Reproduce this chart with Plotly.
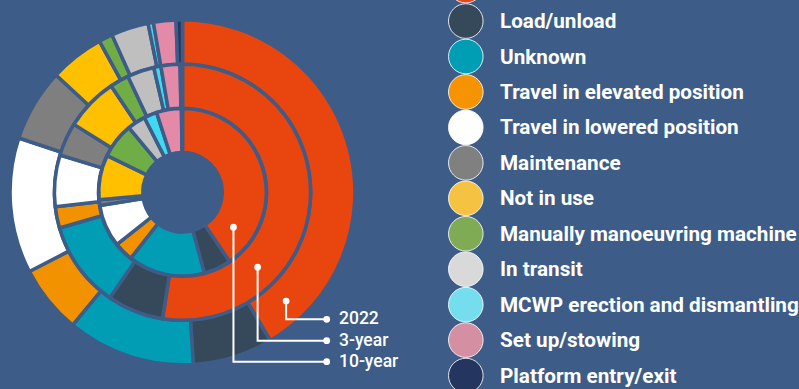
import math
import plotly.graph_objects as go

# ---- data -------------------------------------------------------------
categories = [
    "Working at height",
    "Load/unload",
    "Unknown",
    "Travel in elevated position",
    "Travel in lowered position",
    "Maintenance",
    "Not in use",
    "Manually manoeuvring machine",
    "In transit",
    "MCWP erection and dismantling",
    "Set up/stowing",
    "Platform entry/exit",
]
share_2022 = [41.5, 7.5, 12.0, 6.4, 12.7, 6.8, 5.1, 1.3, 3.5, 0.5, 2.1, 0.6]
share_3yr = [52.5, 7.1, 10.9, 2.7, 6.5, 4.2, 6.7, 2.4, 3.4, 0.9, 2.4, 0.3]
share_10yr = [40.5, 5.3, 14.8, 3.7, 8.2, 1.1, 8.6, 6.8, 3.5, 2.5, 4.8, 0.2]
ring_labels = ["2022", "3-year", "10-year"]

# ---- styling ----------------------------------------------------------
BG = "#3e5c88"
ring_colors = ["#e8450f", "#36495a", "#009db4", "#f39200", "#ffffff", "#7f7f7f",
               "#ffc000", "#70ad47", "#bfbfbf", "#3fd9f2", "#e38aa8", "#1f3864"]
legend_colors = ["#e8461a", "#36495a", "#009eb4", "#f59300", "#ffffff", "#808080",
                 "#f6c242", "#7fab55", "#d9d9d9", "#74ddee", "#d58fa3", "#24355f"]

W, H = 799, 389
CX, CY = 182.5, 192.3          # donut centre (px from top-left)
STROKE = 3.5                   # slice separator width
# (outer radius, inner radius) in px for each ring, outermost first
rings = [(172.45, 128.05), (128.05, 84.05), (83.75, 39.75)]


def px(x):
    return x / W


def py(y):
    return 1 - y / H


fig = go.Figure()

for values, (r_out, r_in) in zip([share_2022, share_3yr, share_10yr], rings):
    fig.add_trace(go.Pie(
        labels=categories,
        values=values,
        sort=False,
        direction="clockwise",
        rotation=0,
        hole=r_in / r_out,
        domain=dict(x=[px(CX - r_out), px(CX + r_out)],
                    y=[py(CY + r_out), py(CY - r_out)]),
        marker=dict(colors=ring_colors, line=dict(color=BG, width=STROKE)),
        textinfo="none",
        hoverinfo="label+value",
        showlegend=False,
    ))

shapes = []
annotations = []

# ---- legend (circle swatches + bold labels) ---------------------------
LEG_CX, LEG_R = 465.8, 17.3
LEG_Y0, LEG_STEP = -14.4, 35.45
LEG_TX = 498.0
for i, (name, col) in enumerate(zip(categories, legend_colors)):
    yc = LEG_Y0 + i * LEG_STEP
    shapes.append(dict(
        type="circle", xref="paper", yref="paper",
        x0=px(LEG_CX - LEG_R), x1=px(LEG_CX + LEG_R),
        y0=py(yc + LEG_R), y1=py(yc - LEG_R),
        fillcolor=col, line=dict(color="rgba(255,255,255,0.85)", width=1),
    ))
    if yc < 0:
        # entry scrolled above the top edge: only the swatch rim shows
        continue
    annotations.append(dict(
        x=px(LEG_TX), y=py(yc), xref="paper", yref="paper",
        xanchor="left", yanchor="middle", showarrow=False,
        text=name, font=dict(family="Roboto", size=20.7, color="white", weight="bold"),
    ))

# ---- ring callouts ----------------------------------------------------
callout_angles = [136.4, 134.9, 124.4]   # degrees clockwise from 12 o'clock
callout_rows = [319.3, 340.7, 361.7]
CALL_END_X = 326.7
CALL_TEXT_X = 336.5
DOT = 3.4
for label, (r_out, r_in), ang, row in zip(ring_labels, rings, callout_angles, callout_rows):
    rm = (r_out + r_in) / 2
    ax = CX + rm * math.sin(math.radians(ang))
    ay = CY - rm * math.cos(math.radians(ang))
    line_style = dict(color="white", width=2)
    shapes.append(dict(type="path", xref="paper", yref="paper",
                       path=f"M {px(ax)} {py(ay)} L {px(ax)} {py(row)} L {px(CALL_END_X)} {py(row)}",
                       line=line_style))
    for dx, dy in [(ax, ay), (CALL_END_X, row)]:
        shapes.append(dict(type="circle", xref="paper", yref="paper",
                           x0=px(dx - DOT), x1=px(dx + DOT),
                           y0=py(dy + DOT), y1=py(dy - DOT),
                           fillcolor="white", line=dict(width=0)))
    annotations.append(dict(
        x=px(CALL_TEXT_X), y=py(row - 1), xref="paper", yref="paper",
        xanchor="left", yanchor="middle", showarrow=False,
        text=label, font=dict(family="Roboto", size=17.5, color="white", weight=500),
    ))

fig.update_layout(
    width=W, height=H,
    margin=dict(l=0, r=0, t=0, b=0),
    paper_bgcolor=BG, plot_bgcolor=BG,
    shapes=shapes, annotations=annotations,
)

fig.write_html("out.html")
